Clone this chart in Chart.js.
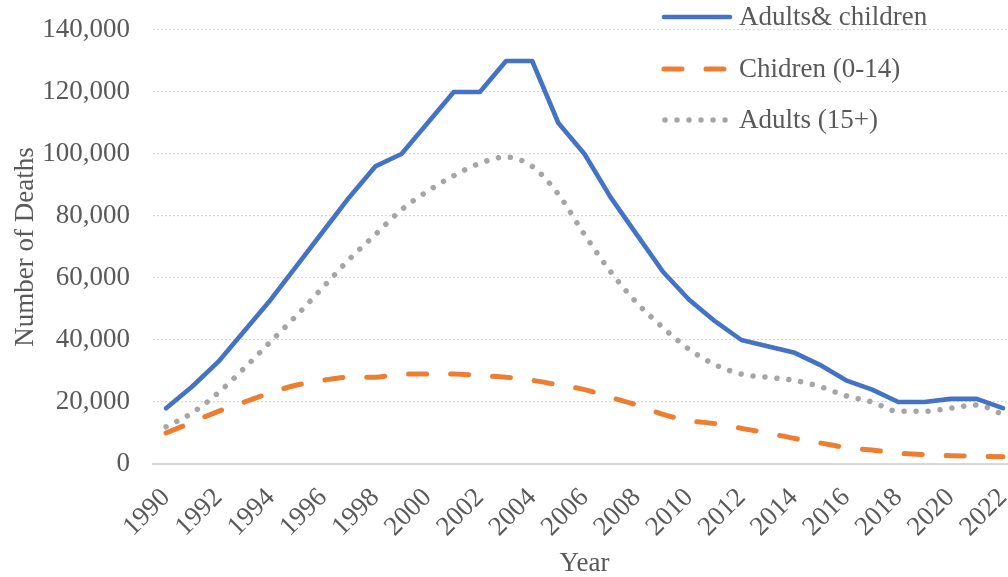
<!DOCTYPE html>
<html>
<head>
<meta charset="utf-8">
<title>Number of Deaths, 1990–2022</title>
<script src="https://cdn.jsdelivr.net/npm/chart.js@4.4.1/dist/chart.umd.min.js"></script>
<style>
  html, body { margin: 0; padding: 0; background: #ffffff; overflow: hidden; width: 1008px; height: 577px; }
  #wrap { position: absolute; left: 0; top: 0; width: 1020px; height: 577px; }
  canvas { display: block; }
</style>
</head>
<body>
<div id="wrap"><canvas id="chart" width="1020" height="577"></canvas></div>
<script>
// Years on the category axis
const years = ['1990','1991','1992','1993','1994','1995','1996','1997','1998','1999',
               '2000','2001','2002','2003','2004','2005','2006','2007','2008','2009',
               '2010','2011','2012','2013','2014','2015','2016','2017','2018','2019',
               '2020','2021','2022'];

// Deaths per year, all ages
const totalDeaths = [18000, 25000, 33000, 43000, 53000, 64000, 75000, 86000, 96000, 100000,
                     110000, 120000, 120000, 130000, 130000, 110000, 100000, 86000, 74000, 62000,
                     53000, 46000, 40000, 38000, 36000, 32000, 27000, 24000, 20000, 20000,
                     21000, 21000, 18000];

// Deaths per year, children aged 0-14
const childDeaths = [10000, 13500, 17000, 20000, 23000, 25500, 27000, 28000, 28000, 29000,
                     29000, 29000, 28500, 28000, 27000, 25500, 24000, 21500, 19000, 16000,
                     14000, 13000, 11500, 10000, 8300, 6800, 5300, 4500, 3500, 3000,
                     2700, 2500, 2300];

// Deaths per year, adults aged 15+
const adultDeaths = [12000, 16500, 23000, 31000, 39500, 48000, 57000, 66000, 74000, 82000,
                     88000, 93000, 97000, 99000, 96000, 87000, 74000, 62000, 52000, 44000,
                     37000, 32000, 29000, 28000, 27000, 25000, 22000, 20000, 17000, 17000,
                     18000, 19000, 16000];

const seriesNames = ['Adults& children', 'Chidren (0-14)', 'Adults (15+)'];
const yTickValues = [0, 20000, 40000, 60000, 80000, 100000, 120000, 140000];
const xTickLabels = years.filter((y, i) => i % 2 === 0);

const FONT = '"Liberation Serif", "Times New Roman", serif';
const TEXT = '#595959';
const SIZE = 27;

// Legend drawn inside the plot area, top right, one row per series
const insetLegend = {
  id: 'insetLegend',
  afterDraw(chart) {
    const ctx = chart.ctx;
    const rows = [17, 69, 120];
    const sample = [[664, 730], [664, 724], [665, 726]];
    chart.data.datasets.forEach((ds, i) => {
      const y = rows[i];
      ctx.save();
      ctx.strokeStyle = ds.borderColor;
      ctx.lineWidth = ds.borderWidth;
      ctx.lineCap = 'round';
      ctx.setLineDash(ds.borderDash || []);
      ctx.beginPath();
      ctx.moveTo(sample[i][0], y);
      ctx.lineTo(sample[i][1], y);
      ctx.stroke();
      ctx.setLineDash([]);
      ctx.fillStyle = TEXT;
      ctx.font = SIZE + 'px ' + FONT;
      ctx.textAlign = 'left';
      ctx.textBaseline = 'middle';
      ctx.fillText(ds.label, 739, y + 1);
      ctx.restore();
    });
  }
};

new Chart(document.getElementById('chart'), {
  type: 'line',
  data: {
    labels: years,
    datasets: [
      {
        label: seriesNames[0],
        data: totalDeaths,
        borderColor: '#4472C4',
        borderWidth: 4.6,
        borderCapStyle: 'round',
        borderJoinStyle: 'round',
        tension: 0,
        pointRadius: 0,
        fill: false
      },
      {
        label: seriesNames[1],
        data: childDeaths,
        borderColor: '#ED7D31',
        borderWidth: 5,
        borderDash: [18, 24],
        borderCapStyle: 'round',
        borderJoinStyle: 'round',
        tension: 0.4,
        cubicInterpolationMode: 'monotone',
        pointRadius: 0,
        fill: false
      },
      {
        label: seriesNames[2],
        data: adultDeaths,
        borderColor: '#A5A5A5',
        borderWidth: 5.5,
        borderDash: [0.01, 12],
        borderCapStyle: 'round',
        borderJoinStyle: 'round',
        tension: 0.4,
        cubicInterpolationMode: 'monotone',
        pointRadius: 0,
        fill: false
      }
    ]
  },
  options: {
    responsive: false,
    animation: false,
    devicePixelRatio: 1,
    layout: { padding: { top: 30, right: 4, left: 0, bottom: 0 } },
    plugins: {
      legend: { display: false },
      tooltip: { enabled: false },
      title: { display: false }
    },
    scales: {
      x: {
        type: 'category',
        offset: true,
        grid: { display: false, drawTicks: false },
        border: { display: true, color: '#D9D9D9', width: 2 },
        ticks: {
          autoSkip: false,
          minRotation: 45,
          maxRotation: 45,
          padding: 18,
          color: TEXT,
          font: { family: FONT, size: SIZE },
          callback: function (value, index) {
            const lab = this.getLabelForValue(value);
            return xTickLabels.includes(lab) ? lab : '';
          }
        },
        title: {
          display: true,
          text: 'Year',
          color: TEXT,
          font: { family: FONT, size: SIZE, lineHeight: 1.0 },
          padding: { top: 0, bottom: 0 }
        },
        afterFit(scale) {
          scale.height = 113;
          scale.paddingLeft = 0;
          scale.paddingRight = 0;
        }
      },
      y: {
        min: 0,
        max: 140000,
        afterBuildTicks(scale) { scale.ticks = yTickValues.map(v => ({ value: v })); },
        grid: { color: '#D9D9D9', lineWidth: 1.2, drawTicks: false },
        border: { display: false, dash: [2, 2] },
        ticks: {
          padding: 23,
          color: TEXT,
          font: { family: FONT, size: SIZE },
          callback: v => v.toLocaleString('en-US')
        },
        title: {
          display: true,
          text: 'Number of Deaths',
          color: TEXT,
          font: { family: FONT, size: SIZE },
          padding: { top: 10, bottom: 0 }
        },
        afterFit(scale) {
          scale.width = 153;
          scale.paddingTop = 0;
          scale.paddingBottom = 0;
        }
      }
    }
  },
  plugins: [insetLegend]
});
</script>
</body>
</html>
